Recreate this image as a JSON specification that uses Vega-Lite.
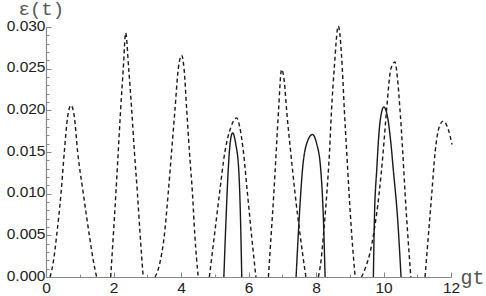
{
  "$schema": "https://vega.github.io/schema/vega-lite/v6.json",
  "autosize": "none",
  "width": 405,
  "height": 250,
  "padding": {"left": 46, "top": 27, "right": 35, "bottom": 19},
  "background": "white",
  "config": {"view": {"stroke": null}},
  "data": {"values": [
    {"s": "dashed", "seg": "d1", "gt": 0.12, "e": 0},
    {"s": "dashed", "seg": "d1", "gt": 0.22, "e": 0.0019},
    {"s": "dashed", "seg": "d1", "gt": 0.316, "e": 0.005},
    {"s": "dashed", "seg": "d1", "gt": 0.444, "e": 0.010},
    {"s": "dashed", "seg": "d1", "gt": 0.543, "e": 0.015},
    {"s": "dashed", "seg": "d1", "gt": 0.64, "e": 0.0192},
    {"s": "dashed", "seg": "d1", "gt": 0.74, "e": 0.0206},
    {"s": "dashed", "seg": "d1", "gt": 0.84, "e": 0.0192},
    {"s": "dashed", "seg": "d1", "gt": 0.938, "e": 0.015},
    {"s": "dashed", "seg": "d1", "gt": 1.106, "e": 0.010},
    {"s": "dashed", "seg": "d1", "gt": 1.284, "e": 0.005},
    {"s": "dashed", "seg": "d1", "gt": 1.40, "e": 0.002},
    {"s": "dashed", "seg": "d1", "gt": 1.50, "e": 0},
    {"s": "dashed", "seg": "d2", "gt": 1.916, "e": 0},
    {"s": "dashed", "seg": "d2", "gt": 1.995, "e": 0.005},
    {"s": "dashed", "seg": "d2", "gt": 2.07, "e": 0.010},
    {"s": "dashed", "seg": "d2", "gt": 2.14, "e": 0.015},
    {"s": "dashed", "seg": "d2", "gt": 2.21, "e": 0.020},
    {"s": "dashed", "seg": "d2", "gt": 2.29, "e": 0.025},
    {"s": "dashed", "seg": "d2", "gt": 2.36, "e": 0.0293},
    {"s": "dashed", "seg": "d2", "gt": 2.45, "e": 0.025},
    {"s": "dashed", "seg": "d2", "gt": 2.54, "e": 0.020},
    {"s": "dashed", "seg": "d2", "gt": 2.62, "e": 0.015},
    {"s": "dashed", "seg": "d2", "gt": 2.71, "e": 0.010},
    {"s": "dashed", "seg": "d2", "gt": 2.79, "e": 0.005},
    {"s": "dashed", "seg": "d2", "gt": 2.88, "e": 0},
    {"s": "dashed", "seg": "d3", "gt": 3.23, "e": 0},
    {"s": "dashed", "seg": "d3", "gt": 3.30, "e": 0.0006},
    {"s": "dashed", "seg": "d3", "gt": 3.38, "e": 0.0018},
    {"s": "dashed", "seg": "d3", "gt": 3.50, "e": 0.0048},
    {"s": "dashed", "seg": "d3", "gt": 3.62, "e": 0.010},
    {"s": "dashed", "seg": "d3", "gt": 3.72, "e": 0.015},
    {"s": "dashed", "seg": "d3", "gt": 3.82, "e": 0.020},
    {"s": "dashed", "seg": "d3", "gt": 3.92, "e": 0.025},
    {"s": "dashed", "seg": "d3", "gt": 4.02, "e": 0.0266},
    {"s": "dashed", "seg": "d3", "gt": 4.09, "e": 0.025},
    {"s": "dashed", "seg": "d3", "gt": 4.17, "e": 0.020},
    {"s": "dashed", "seg": "d3", "gt": 4.25, "e": 0.015},
    {"s": "dashed", "seg": "d3", "gt": 4.34, "e": 0.010},
    {"s": "dashed", "seg": "d3", "gt": 4.41, "e": 0.005},
    {"s": "dashed", "seg": "d3", "gt": 4.51, "e": 0},
    {"s": "dashed", "seg": "d4", "gt": 4.84, "e": 0},
    {"s": "dashed", "seg": "d4", "gt": 4.99, "e": 0.005},
    {"s": "dashed", "seg": "d4", "gt": 5.14, "e": 0.010},
    {"s": "dashed", "seg": "d4", "gt": 5.30, "e": 0.015},
    {"s": "dashed", "seg": "d4", "gt": 5.48, "e": 0.0180},
    {"s": "dashed", "seg": "d4", "gt": 5.65, "e": 0.0191},
    {"s": "dashed", "seg": "d4", "gt": 5.75, "e": 0.0178},
    {"s": "dashed", "seg": "d4", "gt": 5.85, "e": 0.015},
    {"s": "dashed", "seg": "d4", "gt": 5.97, "e": 0.010},
    {"s": "dashed", "seg": "d4", "gt": 6.09, "e": 0.005},
    {"s": "dashed", "seg": "d4", "gt": 6.22, "e": 0},
    {"s": "dashed", "seg": "d5", "gt": 6.59, "e": 0},
    {"s": "dashed", "seg": "d5", "gt": 6.67, "e": 0.005},
    {"s": "dashed", "seg": "d5", "gt": 6.75, "e": 0.010},
    {"s": "dashed", "seg": "d5", "gt": 6.82, "e": 0.015},
    {"s": "dashed", "seg": "d5", "gt": 6.89, "e": 0.020},
    {"s": "dashed", "seg": "d5", "gt": 6.98, "e": 0.0249},
    {"s": "dashed", "seg": "d5", "gt": 7.06, "e": 0.0235},
    {"s": "dashed", "seg": "d5", "gt": 7.13, "e": 0.020},
    {"s": "dashed", "seg": "d5", "gt": 7.25, "e": 0.015},
    {"s": "dashed", "seg": "d5", "gt": 7.38, "e": 0.010},
    {"s": "dashed", "seg": "d5", "gt": 7.53, "e": 0.005},
    {"s": "dashed", "seg": "d5", "gt": 7.70, "e": 0},
    {"s": "dashed", "seg": "d6", "gt": 8.07, "e": 0},
    {"s": "dashed", "seg": "d6", "gt": 8.15, "e": 0.002},
    {"s": "dashed", "seg": "d6", "gt": 8.22, "e": 0.005},
    {"s": "dashed", "seg": "d6", "gt": 8.32, "e": 0.010},
    {"s": "dashed", "seg": "d6", "gt": 8.40, "e": 0.015},
    {"s": "dashed", "seg": "d6", "gt": 8.46, "e": 0.020},
    {"s": "dashed", "seg": "d6", "gt": 8.54, "e": 0.025},
    {"s": "dashed", "seg": "d6", "gt": 8.66, "e": 0.0301},
    {"s": "dashed", "seg": "d6", "gt": 8.78, "e": 0.025},
    {"s": "dashed", "seg": "d6", "gt": 8.84, "e": 0.020},
    {"s": "dashed", "seg": "d6", "gt": 8.91, "e": 0.015},
    {"s": "dashed", "seg": "d6", "gt": 8.98, "e": 0.010},
    {"s": "dashed", "seg": "d6", "gt": 9.06, "e": 0.005},
    {"s": "dashed", "seg": "d6", "gt": 9.16, "e": 0},
    {"s": "dashed", "seg": "d7", "gt": 9.35, "e": 0},
    {"s": "dashed", "seg": "d7", "gt": 9.50, "e": 0.0015},
    {"s": "dashed", "seg": "d7", "gt": 9.60, "e": 0.0029},
    {"s": "dashed", "seg": "d7", "gt": 9.70, "e": 0.005},
    {"s": "dashed", "seg": "d7", "gt": 9.87, "e": 0.010},
    {"s": "dashed", "seg": "d7", "gt": 9.99, "e": 0.015},
    {"s": "dashed", "seg": "d7", "gt": 10.09, "e": 0.020},
    {"s": "dashed", "seg": "d7", "gt": 10.22, "e": 0.025},
    {"s": "dashed", "seg": "d7", "gt": 10.34, "e": 0.0258},
    {"s": "dashed", "seg": "d7", "gt": 10.41, "e": 0.024},
    {"s": "dashed", "seg": "d7", "gt": 10.49, "e": 0.020},
    {"s": "dashed", "seg": "d7", "gt": 10.57, "e": 0.015},
    {"s": "dashed", "seg": "d7", "gt": 10.64, "e": 0.010},
    {"s": "dashed", "seg": "d7", "gt": 10.72, "e": 0.005},
    {"s": "dashed", "seg": "d7", "gt": 10.81, "e": 0},
    {"s": "dashed", "seg": "d8", "gt": 11.23, "e": 0},
    {"s": "dashed", "seg": "d8", "gt": 11.33, "e": 0.005},
    {"s": "dashed", "seg": "d8", "gt": 11.43, "e": 0.010},
    {"s": "dashed", "seg": "d8", "gt": 11.53, "e": 0.015},
    {"s": "dashed", "seg": "d8", "gt": 11.65, "e": 0.0180},
    {"s": "dashed", "seg": "d8", "gt": 11.77, "e": 0.0187},
    {"s": "dashed", "seg": "d8", "gt": 11.92, "e": 0.0177},
    {"s": "dashed", "seg": "d8", "gt": 12.03, "e": 0.0159},
    {"s": "solid", "seg": "s1", "gt": 5.27, "e": 0},
    {"s": "solid", "seg": "s1", "gt": 5.33, "e": 0.0065},
    {"s": "solid", "seg": "s1", "gt": 5.40, "e": 0.0129},
    {"s": "solid", "seg": "s1", "gt": 5.46, "e": 0.0162},
    {"s": "solid", "seg": "s1", "gt": 5.53, "e": 0.0173},
    {"s": "solid", "seg": "s1", "gt": 5.62, "e": 0.0160},
    {"s": "solid", "seg": "s1", "gt": 5.71, "e": 0.0129},
    {"s": "solid", "seg": "s1", "gt": 5.76, "e": 0.0075},
    {"s": "solid", "seg": "s1", "gt": 5.80, "e": 0},
    {"s": "solid", "seg": "s2", "gt": 7.41, "e": 0},
    {"s": "solid", "seg": "s2", "gt": 7.50, "e": 0.0069},
    {"s": "solid", "seg": "s2", "gt": 7.60, "e": 0.0129},
    {"s": "solid", "seg": "s2", "gt": 7.75, "e": 0.0163},
    {"s": "solid", "seg": "s2", "gt": 7.89, "e": 0.0171},
    {"s": "solid", "seg": "s2", "gt": 8.02, "e": 0.0160},
    {"s": "solid", "seg": "s2", "gt": 8.14, "e": 0.0129},
    {"s": "solid", "seg": "s2", "gt": 8.22, "e": 0.0069},
    {"s": "solid", "seg": "s2", "gt": 8.27, "e": 0},
    {"s": "solid", "seg": "s3", "gt": 9.70, "e": 0},
    {"s": "solid", "seg": "s3", "gt": 9.73, "e": 0.0069},
    {"s": "solid", "seg": "s3", "gt": 9.80, "e": 0.0129},
    {"s": "solid", "seg": "s3", "gt": 9.90, "e": 0.0187},
    {"s": "solid", "seg": "s3", "gt": 10.01, "e": 0.0204},
    {"s": "solid", "seg": "s3", "gt": 10.12, "e": 0.0192},
    {"s": "solid", "seg": "s3", "gt": 10.22, "e": 0.0160},
    {"s": "solid", "seg": "s3", "gt": 10.29, "e": 0.0129},
    {"s": "solid", "seg": "s3", "gt": 10.42, "e": 0.0069},
    {"s": "solid", "seg": "s3", "gt": 10.52, "e": 0}
  ]},
  "mark": {"type": "line", "interpolate": "monotone", "strokeWidth": 1.4, "color": "#1a1a1a", "clip": false},
  "encoding": {
    "x": {
      "field": "gt", "type": "quantitative",
      "scale": {"domain": [0, 12], "nice": false, "zero": false},
      "axis": {
        "title": "gt",
        "titleFont": "Liberation Mono", "titleFontSize": 20, "titleFontWeight": "normal", "titleColor": "#555",
        "titleAngle": 0, "titleAlign": "left", "titleBaseline": "alphabetic",
        "titleX": 414, "titleY": 6,
        "values": [0,0.5,1,1.5,2,2.5,3,3.5,4,4.5,5,5.5,6,6.5,7,7.5,8,8.5,9,9.5,10,10.5,11,11.5,12],
        "labelExpr": "datum.value % 2 === 0 ? datum.label : ''",
        "format": "d",
        "labelFont": "Liberation Sans", "labelFontSize": 15.5, "labelColor": "#222",
        "labelFlush": false, "labelOverlap": false, "labelBound": false,
        "labelPadding": 8,
        "domainColor": "#888", "domainWidth": 1.2,
        "tickColor": "#888", "tickWidth": 1,
        "tickSize": {"condition": {"test": "datum.value % 2 === 0", "value": -5}, "value": -3},
        "grid": false
      }
    },
    "y": {
      "field": "e", "type": "quantitative",
      "scale": {"domain": [0, 0.03], "nice": false},
      "axis": {
        "title": "ε(t)",
        "titleFont": "Liberation Mono", "titleFontSize": 19, "titleFontWeight": "normal", "titleColor": "#555",
        "titleAngle": 0, "titleAlign": "left", "titleBaseline": "alphabetic",
        "titleX": -28, "titleY": -13,
        "values": [0,0.001,0.002,0.003,0.004,0.005,0.006,0.007,0.008,0.009,0.01,0.011,0.012,0.013,0.014,0.015,0.016,0.017,0.018,0.019,0.02,0.021,0.022,0.023,0.024,0.025,0.026,0.027,0.028,0.029,0.03],
        "format": ".3f",
        "labelExpr": "round(datum.value * 1000) % 5 === 0 ? datum.label : ''",
        "labelFont": "Liberation Sans", "labelFontSize": 15.5, "labelColor": "#222",
        "labelFlush": false, "labelOverlap": false, "labelBound": false,
        "labelPadding": 6,
        "labelOffset": -2,
        "domainColor": "#888", "domainWidth": 1.2,
        "tickColor": "#888", "tickWidth": 1,
        "tickSize": {"condition": {"test": "round(datum.value * 1000) % 5 === 0", "value": -5}, "value": -3},
        "grid": false
      }
    },
    "detail": {"field": "seg"},
    "strokeDash": {
      "field": "s", "type": "nominal",
      "scale": {"domain": ["dashed", "solid"], "range": [[4, 3], [1, 0]]},
      "legend": null
    }
  }
}
